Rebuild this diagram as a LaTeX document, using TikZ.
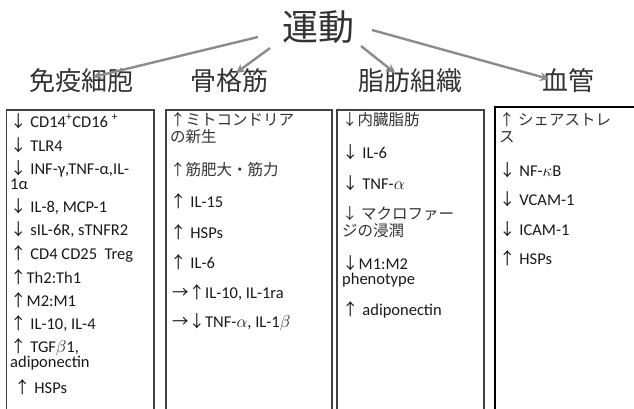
\documentclass[tikz,border=0pt]{standalone}
\usepackage{fontspec}
\setmainfont{Carlito}
\newfontfamily\jp{Noto Sans CJK JP}
\usetikzlibrary{arrows.meta}
\newcommand{\myup}{{\jp ↑}}
\newcommand{\mydn}{{\jp ↓}}
\newcommand{\myra}{{\jp →}}
\begin{document}
\begin{tikzpicture}[x=1pt,y=-1pt,
  conn/.style={draw=black!45, line width=2.4pt, -{Stealth[length=9pt,width=9pt]}},
  box/.style={draw=black!75, line width=1.2pt},
  hdr/.style={font=\jp\fontsize{26}{26}\selectfont, inner sep=0pt, text=black!80},
  item/.style={anchor=west, inner sep=0pt, align=left, text=black!90,
    font=\fontsize{16.5}{15}\selectfont},
  jitem/.style={item, font=\jp\fontsize{15.5}{17}\selectfont, text=black!80}]
\useasboundingbox (0,0) rectangle (634,408);
\fill[white] (0,0) rectangle (634,408);
% title and headers
\node[font=\jp\fontsize{36}{36}\selectfont, inner sep=0pt, text=black!80] (title) at (318,27) {運動};
\node[hdr] (h1) at (81,81) {免疫細胞};
\node[hdr] (h2) at (229,81) {骨格筋};
\node[hdr] (h3) at (410,81) {脂肪組織};
\node[hdr] (h4) at (568,81) {血管};
% connectors
\coordinate (s1) at (258,37); \coordinate (e1) at (93,77);
\coordinate (s2) at (270,48); \coordinate (e2) at (236,73);
\coordinate (s3) at (361,46); \coordinate (e3) at (395,73);
\coordinate (s4) at (372,30); \coordinate (e4) at (549,79);
\draw[conn] (s1) -- (e1);
\draw[conn] (s2) -- (e2);
\draw[conn] (s3) -- (e3);
\draw[conn] (s4) -- (e4);
% boxes
\draw[box] (6.5,110) rectangle (154,420);
\draw[box] (166,110) rectangle (332,420);
\draw[box] (337,110) rectangle (484,420);
\draw[box, draw=black] (495,107) rectangle (650,420);
% column 1
\node[item] (a1) at (10,121) {\mydn\ CD14\textsuperscript{+}CD16 \textsuperscript{+}};
\node[item] (a2) at (10,145) {\mydn\ TLR4};
\node[item] (a3) at (10,175) {\mydn\ INF-γ,TNF-α,IL-\\1α};
\node[item] (a4) at (10,207) {\mydn\ IL-8, MCP-1};
\node[item] (a5) at (10,230) {\mydn\ sIL-6R, sTNFR2};
\node[item] (a6) at (10,254) {\myup\ CD4 CD25\ \ Treg};
\node[item] (a7) at (10,277) {\myup Th2:Th1};
\node[item] (a8) at (10,300) {\myup M2:M1};
\node[item] (a9) at (10,324) {\myup\ IL-10, IL-4};
\node[item] (a10) at (10,354) {\myup\ TGF$\beta$1,\\adiponectin};
\node[item] (a11) at (14,387) {\myup\ HSPs};
% column 2
\node[jitem] (b1) at (170,128) {↑ミトコンドリア\\の新生};
\node[jitem] (b2) at (170,170) {↑筋肥大・筋力};
\node[item] (b3) at (170,201) {\myup\ IL-15};
\node[item] (b4) at (170,232) {\myup\ HSPs};
\node[item] (b5) at (170,262) {\myup\ IL-6};
\node[item] (b6) at (172,293) {\myra\myup IL-10, IL-1ra};
\node[item] (b7) at (172,322) {\myra\mydn TNF-$\alpha$, IL-1$\beta$};
% column 3
\node[jitem] (c1) at (342,120) {↓内臓脂肪};
\node[item] (c2) at (342,152) {\mydn\ IL-6};
\node[item] (c3) at (342,183) {\mydn\ TNF-$\alpha$};
\node[jitem] (c4) at (342,222) {↓ マクロファー\\ジの浸潤};
\node[item] (c5) at (342,271) {\mydn M1:M2\\phenotype};
\node[item] (c6) at (342,310) {\myup\ adiponectin};
% column 4
\node[jitem] (d1) at (499,128) {↑ シェアストレ\\ス};
\node[item] (d2) at (499,170) {\mydn\ NF-$\kappa$B};
\node[item] (d3) at (499,199) {\mydn\ VCAM-1};
\node[item] (d4) at (499,229) {\mydn\ ICAM-1};
\node[item] (d5) at (499,258) {\myup\ HSPs};
\end{tikzpicture}
\end{document}
